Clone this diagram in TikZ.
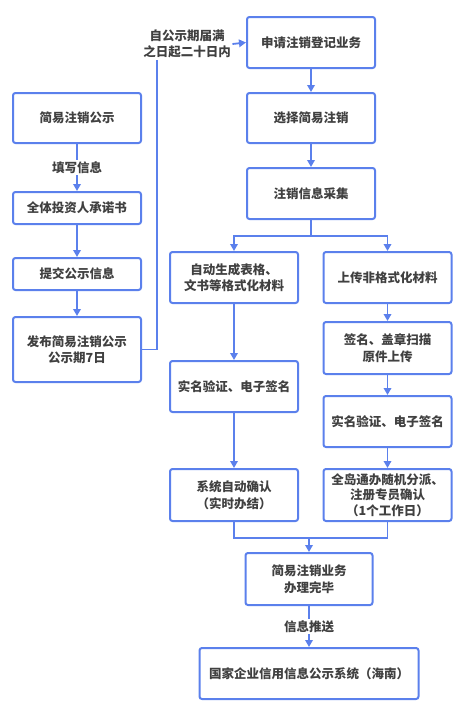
\documentclass[tikz,border=0pt]{standalone}
\usepackage{fontspec}
\setmainfont{Noto Sans CJK SC}
\usepackage{tikz}
\usetikzlibrary{arrows.meta, calc}

\definecolor{flowblue}{HTML}{5B80EC}
\definecolor{flowtext}{HTML}{404040}

\begin{document}
\begin{tikzpicture}[x=1pt, y=-1pt,
    every node/.style={font=\fontsize{12.5}{16.5}\selectfont\bfseries, text=flowtext, align=center},
    procbox/.style={draw=flowblue, line width=2pt, rounded corners=2.5pt, minimum width=128pt, inner sep=0pt},
    link/.style={draw=flowblue, line width=1.8pt},
    tip/.style={link, -{Triangle[length=7pt, width=7.5pt]}},
    tag/.style={fill=white, inner sep=1.5pt}]
            \useasboundingbox (0,0) rectangle (471,715);
            \node (apply) at (311,42.5) [procbox, minimum height=51pt] {申请注销登记业务};
            \node (choose) at (311,118) [procbox, minimum height=50pt] {选择简易注销};
            \node (collect) at (311,193.5) [procbox, minimum height=51pt] {注销信息采集};
            \node (notice) at (77,118) [procbox, minimum height=50pt] {简易注销公示};
            \node (promise) at (77,208) [procbox, minimum height=32pt] {全体投资人承诺书};
            \node (submit) at (77,274) [procbox, minimum height=32pt] {提交公示信息};
            \node (publish) at (77,349.5) [procbox, minimum height=65pt] {发布简易注销公示\\公示期7日};
            \node (deadline) at (187,44) [inner sep=1.5pt] {自公示期届满\\之日起二十日内};
            \node (auto) at (234,277.5) [procbox, minimum height=51pt] {自动生成表格、\\文书等格式化材料};
            \node (upload) at (387.5,277.5) [procbox, minimum height=51pt] {上传非格式化材料};
            \node (verifyA) at (234,386.5) [procbox, minimum height=51pt] {实名验证、电子签名};
            \node (scan) at (387.5,348) [procbox, minimum height=52pt] {签名、盖章扫描\\原件上传};
            \node (verifyB) at (387.5,421.5) [procbox, minimum height=51pt] {实名验证、电子签名};
            \node (confirmA) at (234,495) [procbox, minimum height=52pt] {系统自动确认\\（实时办结）};
            \node (confirmB) at (387.5,495) [procbox, minimum height=52pt, font=\fontsize{12.5}{15.5}\selectfont\bfseries] {全岛通办随机分派、\\注册专员确认\\（1个工作日）};
            \node (done) at (309,579) [procbox, minimum width=127pt, minimum height=52pt] {简易注销业务\\办理完毕};
            \node (gsxt) at (309,673.5) [procbox, minimum width=219pt, minimum height=51pt] {国家企业信用信息公示系统（海南）};
            \coordinate (bend) at (157,0);
            \coordinate (merge) at (309,538);
            \draw[tip] (notice) -- node[tag] {填写信息} (promise);
            \draw[tip] (promise) -- (submit);
            \draw[tip] (submit) -- (publish);
            \draw[link] (publish.east) -| (bend |- deadline.south);
            \draw[tip] (deadline.east) -- (apply.west);
            \draw[tip] (apply) -- (choose);
            \draw[tip] (choose) -- (collect);
            \draw[tip] (collect.south) -- ++(0,16) -| (auto.north);
            \draw[tip] (collect.south) -- ++(0,16) -| (upload.north);
            \draw[tip] (auto) -- (verifyA);
            \draw[tip] (verifyA) -- (confirmA);
            \draw[tip] (upload) -- (scan);
            \draw[tip] (scan) -- (verifyB);
            \draw[tip] (verifyB) -- (confirmB);
            \draw[link] (confirmA.south) |- (merge) -| (confirmB.south);
            \draw[tip] (merge) -- (done.north);
            \draw[tip] (done) -- node[tag] {信息推送} (gsxt);
        \end{tikzpicture}
\end{document}
